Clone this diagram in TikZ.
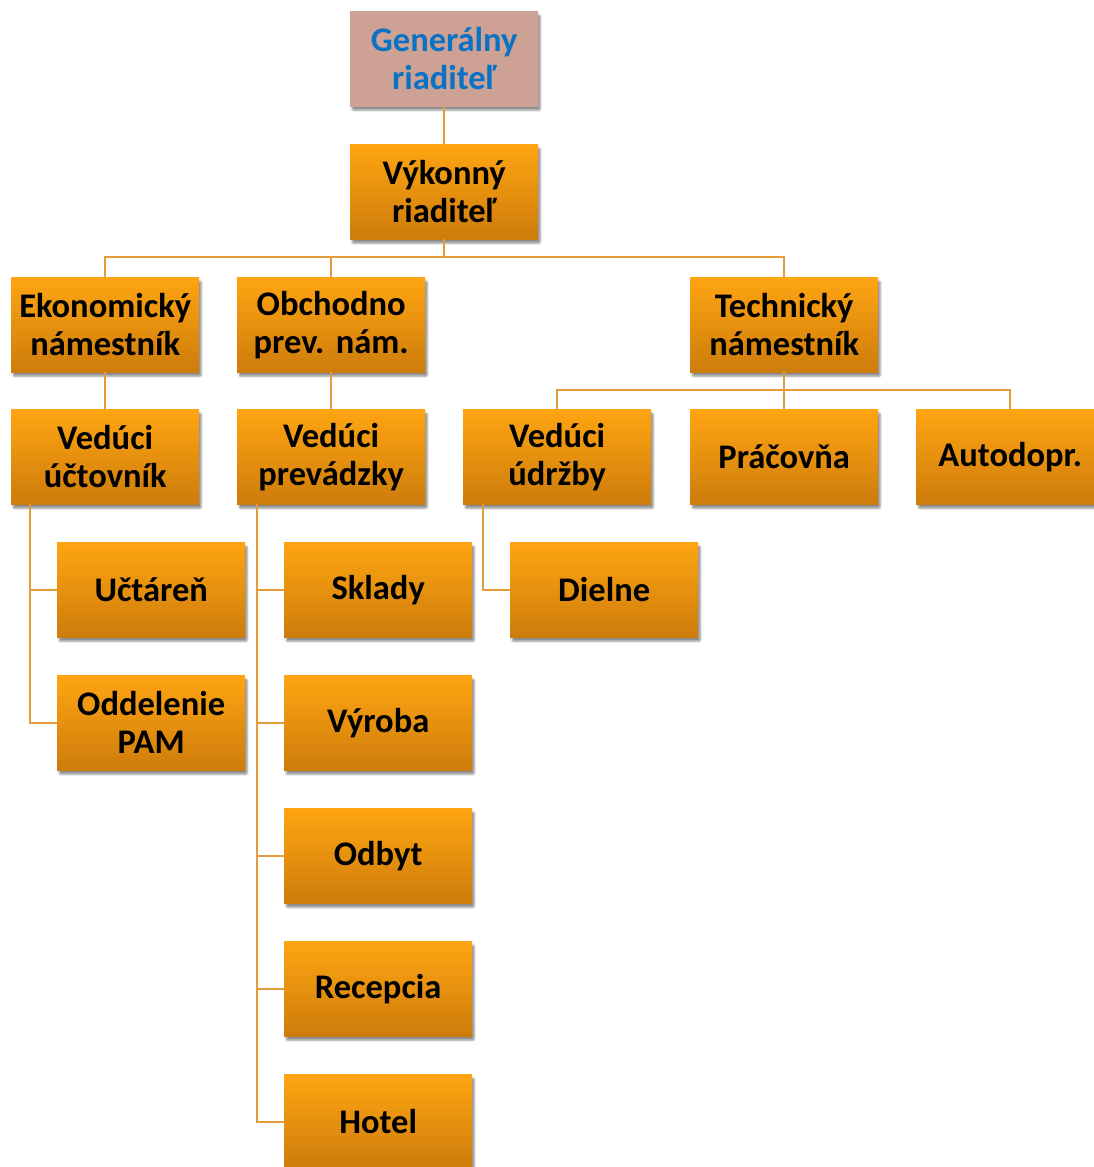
\documentclass[tikz,border=0pt]{standalone}
\usepackage{fontspec}
\setmainfont{Carlito}
\usetikzlibrary{shadows.blur}
\definecolor{linkc}{HTML}{E49B3C}
\definecolor{boxtop}{HTML}{FFA512}
\definecolor{boxbot}{HTML}{CD7C0B}
\definecolor{genfill}{HTML}{CDA294}
\definecolor{gentext}{HTML}{0A72C4}
\tikzset{
  unit/.style={anchor=north west, minimum width=188pt, minimum height=95pt,
    inner sep=2pt, align=center, text width=184pt,
    font=\fontsize{34.5}{38}\selectfont\bfseries\frenchspacing,
    top color=boxtop, bottom color=boxbot, draw=none,
    blur shadow={shadow xshift=2pt, shadow yshift=-4pt, shadow blur steps=6,
      shadow blur extra rounding=1pt, shadow opacity=45}},
  headunit/.style={unit, top color=genfill, bottom color=genfill, text=gentext},
  link/.style={draw=linkc, line width=2pt}
}
\begin{document}
\begin{tikzpicture}[x=1pt,y=1pt]
\useasboundingbox (0,0) rectangle (1094,-1167);
% management levels
\node[headunit] (gen) at (350,-11) {Generálny\\riaditeľ};
\node[unit] (vyk) at (350,-144) {Výkonný\\riaditeľ};
\node[unit] (ekon) at (11,-277) {Ekonomický\\námestník};
\node[unit] (obch) at (237,-277) {Obchodno\\prev. nám.};
\node[unit] (tech) at (690,-277) {Technický\\námestník};
\node[unit] (vuct) at (11,-409) {Vedúci\\účtovník};
\node[unit] (vprev) at (237,-409) {Vedúci\\prevádzky};
\node[unit] (vudr) at (463,-409) {Vedúci\\údržby};
\node[unit] (prac) at (690,-409) {Práčovňa};
\node[unit] (auto) at (916,-409) {Autodopr.};
% departments
\node[unit] (uctar) at (57,-542) {Učtáreň};
\node[unit] (pam) at (57,-675) {Oddelenie\\PAM};
\node[unit] (skl) at (284,-542) {Sklady};
\node[unit] (vyr) at (284,-675) {Výroba};
\node[unit] (odb) at (284,-808) {Odbyt};
\node[unit] (rec) at (284,-941) {Recepcia};
\node[unit] (hot) at (284,-1074) {Hotel};
\node[unit] (diel) at (510,-542) {Dielne};
% connectors
\draw[link] (gen.south) -- (vyk.north);
\coordinate (busA) at ([yshift=-18pt]vyk.south);
\draw[link] (vyk.south) -- (busA);
\draw[link] (busA) -| (ekon.north);
\draw[link] (busA) -| (obch.north);
\draw[link] (busA) -| (tech.north);
\draw[link] (ekon.south) -- (vuct.north);
\draw[link] (obch.south) -- (vprev.north);
\coordinate (busB) at ([yshift=-18pt]tech.south);
\draw[link] (tech.south) -- (prac.north);
\draw[link] (busB) -| (vudr.north);
\draw[link] (busB) -| (auto.north);
\draw[link] ([xshift=19pt]vuct.south west) |- (uctar.west);
\draw[link] ([xshift=19pt]vuct.south west) |- (pam.west);
\draw[link] ([xshift=20pt]vprev.south west) |- (skl.west);
\draw[link] ([xshift=20pt]vprev.south west) |- (vyr.west);
\draw[link] ([xshift=20pt]vprev.south west) |- (odb.west);
\draw[link] ([xshift=20pt]vprev.south west) |- (rec.west);
\draw[link] ([xshift=20pt]vprev.south west) |- (hot.west);
\draw[link] ([xshift=20pt]vudr.south west) |- (diel.west);
\end{tikzpicture}
\end{document}
